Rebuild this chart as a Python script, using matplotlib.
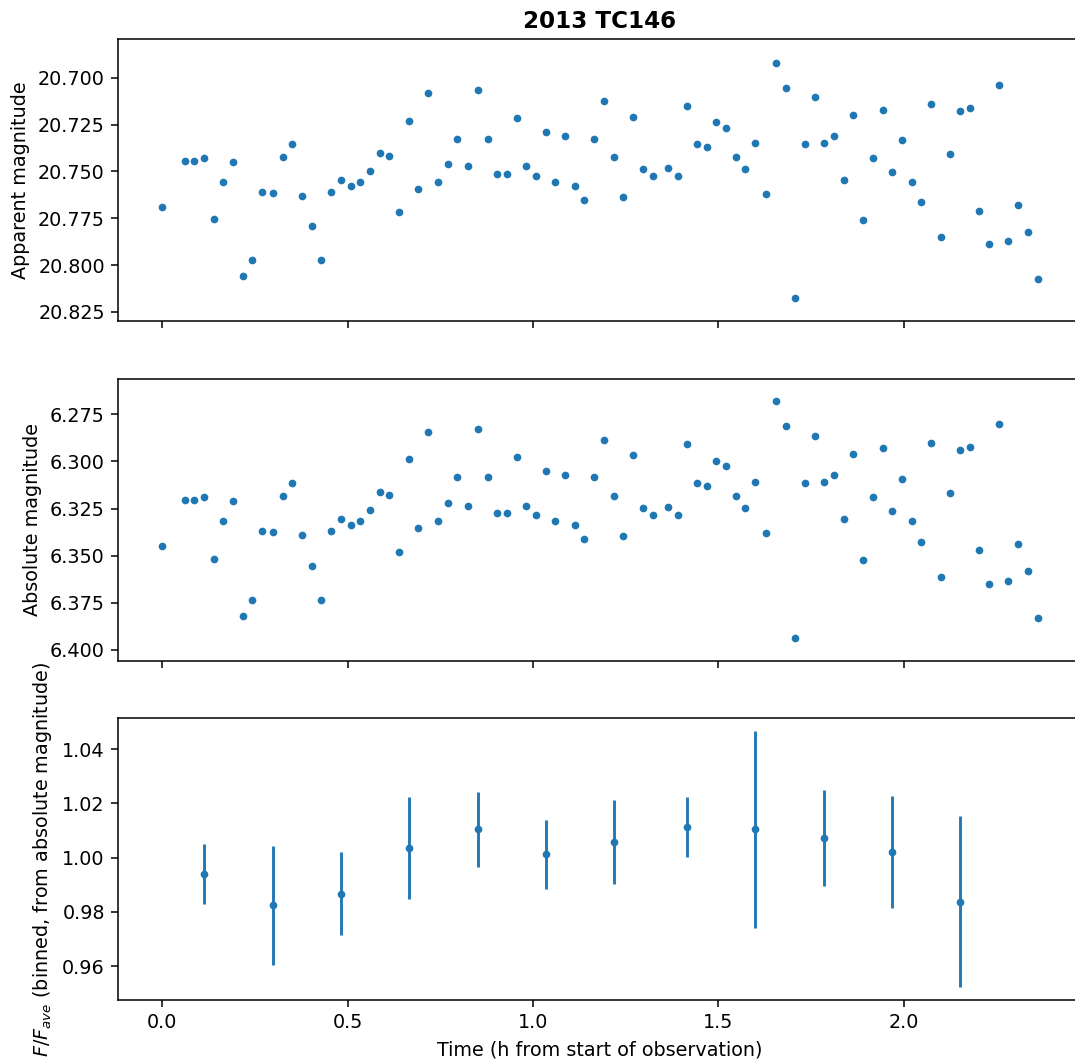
import numpy as np
import matplotlib
matplotlib.use("Agg")
import matplotlib.pyplot as plt

# time since start of observation (h)
time_h = [0.0, 0.0603, 0.0863, 0.1124, 0.1385, 0.1645, 0.1906, 0.2167, 0.2427, 0.2688,
          0.2984, 0.3245, 0.3504, 0.3774, 0.4035, 0.4296, 0.4555, 0.4825, 0.5086, 0.5347,
          0.5606, 0.5867, 0.6128, 0.6387, 0.6649, 0.6910, 0.7179, 0.7437, 0.7699, 0.7960,
          0.8256, 0.8515, 0.8776, 0.9037, 0.9296, 0.9558, 0.9819, 1.0088, 1.0347, 1.0608,
          1.0869, 1.1128, 1.1390, 1.1660, 1.1920, 1.2183, 1.2444, 1.2713, 1.2975, 1.3233,
          1.3649, 1.3908, 1.4169, 1.4430, 1.4690, 1.4951, 1.5212, 1.5471, 1.5733, 1.6002,
          1.6299, 1.6560, 1.6819, 1.7080, 1.7341, 1.7600, 1.7861, 1.8122, 1.8381, 1.8643,
          1.8912, 1.9174, 1.9433, 1.9694, 1.9955, 2.0215, 2.0476, 2.0746, 2.1007, 2.1266,
          2.1528, 2.1789, 2.2048, 2.2310, 2.2571, 2.2830, 2.3091, 2.3352, 2.3621]

apparent_mag = [20.7689, 20.7444, 20.7444, 20.7430, 20.7755, 20.7556, 20.7451, 20.8059, 20.7975, 20.7608,
                20.7615, 20.7423, 20.7355, 20.7629, 20.7792, 20.7975, 20.7608, 20.7547, 20.7577, 20.7556,
                20.7496, 20.7400, 20.7416, 20.7718, 20.7229, 20.7592, 20.7082, 20.7556, 20.7460, 20.7325,
                20.7474, 20.7067, 20.7325, 20.7512, 20.7512, 20.7215, 20.7474, 20.7526, 20.7290, 20.7556,
                20.7311, 20.7577, 20.7652, 20.7325, 20.7126, 20.7423, 20.7638, 20.7208, 20.7488, 20.7526,
                20.7481, 20.7526, 20.7149, 20.7355, 20.7369, 20.7238, 20.7266, 20.7423, 20.7488, 20.7348,
                20.7622, 20.6920, 20.7053, 20.8176, 20.7355, 20.7105, 20.7348, 20.7311, 20.7547, 20.7200,
                20.7762, 20.7430, 20.7171, 20.7503, 20.7334, 20.7556, 20.7666, 20.7142, 20.7851, 20.7407,
                20.7178, 20.7163, 20.7711, 20.7888, 20.7039, 20.7874, 20.7680, 20.7821, 20.8073]

absolute_mag = [6.3449, 6.3204, 6.3204, 6.3190, 6.3515, 6.3316, 6.3211, 6.3819, 6.3735, 6.3368,
                6.3375, 6.3183, 6.3115, 6.3389, 6.3552, 6.3735, 6.3368, 6.3307, 6.3337, 6.3316,
                6.3256, 6.3160, 6.3176, 6.3478, 6.2989, 6.3352, 6.2842, 6.3316, 6.3220, 6.3085,
                6.3234, 6.2827, 6.3085, 6.3272, 6.3272, 6.2975, 6.3234, 6.3286, 6.3050, 6.3316,
                6.3071, 6.3337, 6.3412, 6.3085, 6.2886, 6.3183, 6.3398, 6.2968, 6.3248, 6.3286,
                6.3241, 6.3286, 6.2909, 6.3115, 6.3129, 6.2998, 6.3026, 6.3183, 6.3248, 6.3108,
                6.3382, 6.2680, 6.2813, 6.3936, 6.3115, 6.2865, 6.3108, 6.3071, 6.3307, 6.2960,
                6.3522, 6.3190, 6.2931, 6.3263, 6.3094, 6.3316, 6.3426, 6.2902, 6.3611, 6.3167,
                6.2938, 6.2923, 6.3471, 6.3648, 6.2799, 6.3634, 6.3440, 6.3581, 6.3833]

# binned relative flux
bin_time = [0.1124, 0.2984, 0.4825, 0.6649, 0.8515, 1.0347, 1.2183, 1.4169, 1.6002, 1.7861, 1.9694, 2.1528]
bin_flux = [0.9940, 0.9824, 0.9868, 1.0037, 1.0104, 1.0012, 1.0058, 1.0113, 1.0105, 1.0073, 1.0021, 0.9838]
bin_err = [0.0110, 0.0220, 0.0152, 0.0188, 0.0139, 0.0127, 0.0156, 0.0111, 0.0363, 0.0178, 0.0205, 0.0315]

DPI = 138
fig, axs = plt.subplots(3, 1, sharex=True, figsize=(1075 / DPI, 1061 / DPI), dpi=DPI)
fig.subplots_adjust(left=0.110, right=1.0062, top=0.963, bottom=0.0575, hspace=0.2023)

axs[0].plot(time_h, apparent_mag, ".")
axs[0].set_ylim(20.8301, 20.6795)
axs[0].set_ylabel("Apparent magnitude")
axs[0].set_title("2013 TC146", fontweight="bold")

axs[1].plot(time_h, absolute_mag, ".")
axs[1].set_ylim(6.4057, 6.2560)
axs[1].set_ylabel("Absolute magnitude")

axs[2].errorbar(bin_time, bin_flux, yerr=bin_err, fmt=".")
axs[2].set_ylabel(r"$F/F_{ave}$ (binned, from absolute magnitude)")
axs[2].set_xlabel("Time (h from start of observation)")
axs[2].set_xlim(-0.1187, 2.4806)
axs[2].set_xticks([0.0, 0.5, 1.0, 1.5, 2.0])

fig.savefig("out.png", dpi=DPI)
